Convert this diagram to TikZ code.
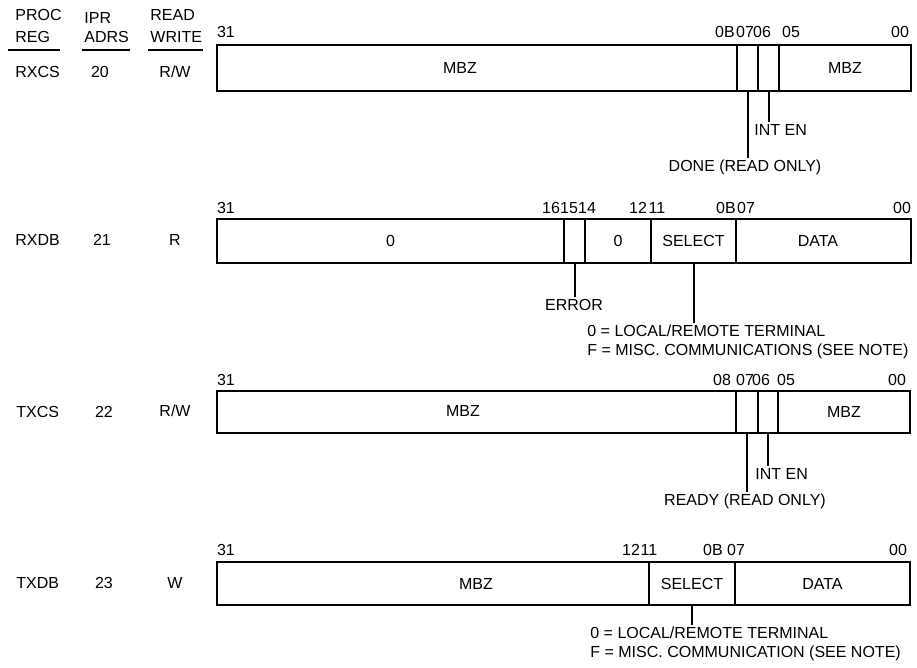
\documentclass[tikz,border=0pt]{standalone}
\usepackage{fontspec}
\setmainfont{Liberation Sans}
\usetikzlibrary{fit,positioning}

\begin{document}
\begin{tikzpicture}[
  x=0.5pt, y=-0.5pt,
  font=\fontsize{8}{9.6}\selectfont,
  txt/.style={inner sep=1pt, text height=5.8pt, text depth=0pt},
  hdr/.style={txt, anchor=west},
  field/.style={draw, line width=1pt, inner sep=0pt},
  reg/.style={draw, line width=1.4pt, inner sep=0pt},
  ptr/.style={line width=1pt},
  rule/.style={line width=1.1pt},
]
\useasboundingbox (0,0) rectangle (917,668);

% ---- Column headings ----
\node[hdr] (hproc)  at (13,15)  {PROC};
\node[hdr] (hreg)   at (13,37)  {REG};
\node[hdr] (hipr)   at (82,18)  {IPR};
\node[hdr] (hadrs)  at (82,37)  {ADRS};
\node[hdr] (hread)  at (148,15) {READ};
\node[hdr] (hwrite) at (148,37) {WRITE};
\draw[rule] (8,50) -- (60,50);
\draw[rule] (82,50) -- (130,50);
\draw[rule] (148,50) -- (203,50);

% ---- RXCS ----
\node[hdr] (rxcsname) at (13,72)  {RXCS};
\node[txt] (rxcsadr)  at (100,72) {20};
\node[txt] (rxcsrw)   at (175,72) {R/W};
\node[field, fit={(217,45) (737,91)}] (rxcsf1)   {};
\node[field, fit={(737,45) (758,91)}] (rxcsdone) {};
\node[field, fit={(758,45) (779,91)}] (rxcsint)  {};
\node[field, fit={(779,45) (911,91)}] (rxcsf2)   {};
\node[reg, fit={(217,45) (911,91)}]   (rxcs)     {};
\node[txt] (rxcsmbz)  at (460,68) {MBZ};
\node[txt] (rxcsmbz2) at (rxcsf2) {MBZ};
\foreach \x/\t [count=\i] in {226/31,725/0B,745/07,762/06,791/05,900/00}
  \node[txt] (rxcsb\i) at (\x,32) {\t};
\node[txt, anchor=west] (rxcsintl) at (752,130) {INT EN};
\node[txt] (rxcsdonel) at (745,166) {DONE (READ ONLY)};
\draw[ptr] (rxcsint.south)  -- (rxcsint.south |- rxcsintl.north);
\draw[ptr] (rxcsdone.south) -- (rxcsdone.south |- rxcsdonel.north);

% ---- RXDB ----
\node[hdr] (rxdbname) at (13,240)  {RXDB};
\node[txt] (rxdbadr)  at (102,240) {21};
\node[txt] (rxdbrw)   at (175,240) {R};
\node[field, fit={(217,219) (564,263)}] (rxdbf1)  {};
\node[field, fit={(564,219) (585,263)}] (rxdberr) {};
\node[field, fit={(585,219) (651,263)}] (rxdbf2)  {};
\node[field, fit={(651,219) (736,263)}] (rxdbsel) {};
\node[field, fit={(736,219) (911,263)}] (rxdbdat) {};
\node[reg, fit={(217,219) (911,263)}]   (rxdb)    {};
\node[txt] (rxdbzero)  at (rxdbf1)  {0};
\node[txt] (rxdbzero2) at (rxdbf2)  {0};
\node[txt] (rxdbsell)  at (rxdbsel) {SELECT};
\node[txt] (rxdbdatl)  at (818,241) {DATA};
\foreach \x/\t [count=\i] in {226/31,551/16,569/15,587/14,638/12,657/11,726/0B,746/07,902/00}
  \node[txt] (rxdbb\i) at (\x,208) {\t};
\node[txt] (rxdberrl) at (574,305) {ERROR};
\node[txt, anchor=west] (rxdbsel1) at (585,331) {0 = LOCAL/REMOTE TERMINAL};
\node[txt, anchor=west] (rxdbsel2) at (585,350) {F = MISC. COMMUNICATIONS (SEE NOTE)};
\draw[ptr] (rxdberr.south) -- (rxdberr.south |- rxdberrl.north);
\draw[ptr] (rxdbsel.south) -- (rxdbsel.south |- rxdbsel1.north);

% ---- TXCS ----
\node[hdr] (txcsname) at (14,412)  {TXCS};
\node[txt] (txcsadr)  at (104,412) {22};
\node[txt] (txcsrw)   at (175,411) {R/W};
\node[field, fit={(217,391) (736,433)}] (txcsf1)    {};
\node[field, fit={(736,391) (758,433)}] (txcsready) {};
\node[field, fit={(758,391) (778,433)}] (txcsint)   {};
\node[field, fit={(778,391) (910,433)}] (txcsf2)    {};
\node[reg, fit={(217,391) (910,433)}]   (txcs)      {};
\node[txt] (txcsmbz)  at (463,411) {MBZ};
\node[txt] (txcsmbz2) at (txcsf2)  {MBZ};
\foreach \x/\t [count=\i] in {226/31,722/08,745/07,761/06,786/05,897/00}
  \node[txt] (txcsb\i) at (\x,380) {\t};
\node[txt, anchor=west] (txcsintl) at (753,474) {INT EN};
\node[txt] (txcsreadyl) at (745,500) {READY (READ ONLY)};
\draw[ptr] (txcsint.south)   -- (txcsint.south |- txcsintl.north);
\draw[ptr] (txcsready.south) -- (txcsready.south |- txcsreadyl.north);

% ---- TXDB ----
\node[hdr] (txdbname) at (14,583)  {TXDB};
\node[txt] (txdbadr)  at (104,583) {23};
\node[txt] (txdbrw)   at (175,583) {W};
\node[field, fit={(217,562) (649,605)}] (txdbf1)  {};
\node[field, fit={(649,562) (735,605)}] (txdbsel) {};
\node[field, fit={(735,562) (910,605)}] (txdbdat) {};
\node[reg, fit={(217,562) (910,605)}]   (txdb)    {};
\node[txt] (txdbmbz)  at (476,584) {MBZ};
\node[txt] (txdbsell) at (txdbsel) {SELECT};
\node[txt] (txdbdatl) at (txdbdat) {DATA};
\foreach \x/\t [count=\i] in {226/31,631/12,649/11,713/0B,736/07,898/00}
  \node[txt] (txdbb\i) at (\x,550) {\t};
\node[txt, anchor=west] (txdbsel1) at (588,633) {0 = LOCAL/REMOTE TERMINAL};
\node[txt, anchor=west] (txdbsel2) at (588,652) {F = MISC. COMMUNICATION (SEE NOTE)};
\draw[ptr] (txdbsel.south) -- (txdbsel.south |- txdbsel1.north);

\end{tikzpicture}
\end{document}
